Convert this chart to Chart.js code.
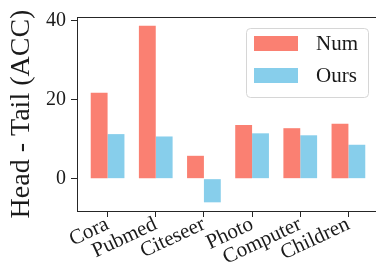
<!DOCTYPE html>
<html>
<head>
<meta charset="UTF-8">
<title>Head - Tail (ACC)</title>
<script src="https://cdn.jsdelivr.net/npm/chart.js"></script>
<style>
    body { margin: 0; background: #fff; overflow: hidden; }
    .chart-container { width: 382px; height: 278px; }
</style>
</head>
<body>
<div class="chart-container">
    <canvas id="gapChart"></canvas>
</div>
<script>
// datasets and values
const categories = ['Cora', 'Pubmed', 'Citeseer', 'Photo', 'Computer', 'Children'];
const numValues = [21.8, 38.8, 5.8, 13.6, 12.8, 13.9];
const oursValues = [11.3, 10.7, -6.0, 11.5, 11.0, 8.6];
const yTicks = [0, 20, 40];

const FONT = "'Liberation Serif', 'Times New Roman', serif";
const AXIS = '#262626';

// top/right spines like matplotlib
const framePlugin = {
    id: 'frame',
    afterDraw(chart) {
        const a = chart.chartArea, ctx = chart.ctx;
        ctx.save();
        ctx.strokeStyle = AXIS;
        ctx.lineWidth = 1;
        ctx.beginPath();
        ctx.moveTo(a.left, a.top + 0.5);
        ctx.lineTo(a.right, a.top + 0.5);
        ctx.lineTo(a.right, a.bottom);
        ctx.stroke();
        ctx.restore();
    }
};

// legend box in the upper right corner of the plot
const innerLegend = {
    id: 'innerLegend',
    afterDraw(chart) {
        const a = chart.chartArea, ctx = chart.ctx;
        const w = 122, h = 69;
        const x = a.right - 11 - w, y = a.top + 11;
        ctx.save();
        ctx.fillStyle = 'rgba(255,255,255,0.8)';
        ctx.strokeStyle = '#d6d6d6';
        ctx.lineWidth = 1;
        ctx.beginPath();
        ctx.roundRect(x + 0.5, y + 0.5, w, h, 4);
        ctx.fill();
        ctx.stroke();
        ctx.font = '21px ' + FONT;
        ctx.textBaseline = 'middle';
        chart.data.datasets.forEach((ds, i) => {
            const ry = y + 8 + i * 32;
            ctx.fillStyle = ds.backgroundColor;
            ctx.fillRect(x + 8, ry, 44, 15);
            ctx.fillStyle = '#1a1a1a';
            ctx.fillText(ds.label, x + 70, ry + 8);
        });
        ctx.restore();
    }
};

const ctx = document.getElementById('gapChart').getContext('2d');
const chart = new Chart(ctx, {
    type: 'bar',
    data: {
        datasets: [{
            label: 'Num',
            data: numValues.map((v, i) => ({ x: i, y: v })),
            backgroundColor: '#FA8072',
            borderWidth: 0
        }, {
            label: 'Ours',
            data: oursValues.map((v, i) => ({ x: i, y: v })),
            backgroundColor: '#87CEEB',
            borderWidth: 0
        }]
    },
    options: {
        responsive: true,
        maintainAspectRatio: false,
        animation: false,
        categoryPercentage: 0.7,
        barPercentage: 1.0,
        layout: { padding: { top: 14, left: 0, right: 3, bottom: 0 } },
        plugins: {
            legend: { display: false },
            tooltip: { enabled: false }
        },
        scales: {
            x: {
                type: 'linear',
                min: -0.635,
                max: 5.635,
                offset: false,
                afterBuildTicks: (scale) => { scale.ticks = categories.map((c, i) => ({ value: i })); },
                afterFit: (scale) => { scale.height = 67; },
                ticks: {
                    autoSkip: false,
                    minRotation: 25,
                    maxRotation: 25,
                    padding: -5,
                    color: '#1a1a1a',
                    font: { family: FONT, size: 21 },
                    callback: (v) => categories[v]
                },
                grid: { display: true, drawOnChartArea: false, offset: false, tickLength: 6, tickColor: AXIS },
                border: { display: true, color: AXIS, width: 1 }
            },
            y: {
                min: -8.2,
                max: 41,
                afterBuildTicks: (scale) => { scale.ticks = yTicks.map(v => ({ value: v })); },
                afterFit: (scale) => { scale.width = 77; },
                ticks: {
                    padding: 5,
                    color: '#1a1a1a',
                    font: { family: FONT, size: 20 }
                },
                grid: { display: true, drawOnChartArea: false, tickLength: 6, tickColor: AXIS },
                border: { display: true, color: AXIS, width: 1 },
                title: {
                    display: true,
                    text: 'Head - Tail (ACC)',
                    color: '#1a1a1a',
                    font: { family: FONT, size: 28 },
                    padding: { top: 5, bottom: 0 }
                }
            }
        }
    },
    plugins: [framePlugin, innerLegend]
});
</script>
</body>
</html>
